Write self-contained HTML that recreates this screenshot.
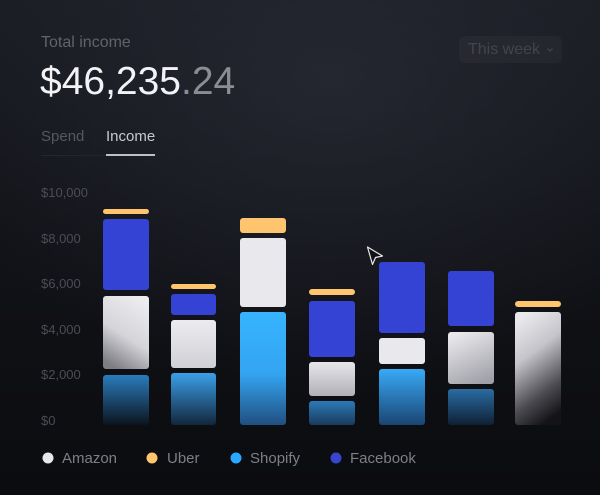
<!DOCTYPE html>
<html>
<head>
<meta charset="utf-8">
<style>
  html,body{margin:0;padding:0;}
  body{width:600px;height:495px;overflow:hidden;position:relative;
    font-family:"Liberation Sans",sans-serif;
    background:#0c0d11;}
  .bg{position:absolute;left:0;top:0;width:600px;height:495px;
    background:
      radial-gradient(ellipse 420px 300px at 330px 80px, rgba(40,43,54,0.75), rgba(20,22,28,0) 100%),
      linear-gradient(180deg,#1a1c23 0%,#121318 45%,#0b0c0f 100%);}
  .t{position:absolute;white-space:nowrap;line-height:1;}
</style>
</head>
<body>
<div class="bg"></div>

<div class="t" style="left:41px;top:35px;font-size:16px;color:#60636c;">Total income</div>
<div class="t" style="left:40px;top:62px;font-size:39px;color:#f3f3f5;">$46,235<span style="color:#8b8d93;">.24</span></div>

<div style="position:absolute;left:459px;top:36px;width:103px;height:27px;border-radius:6px;background:rgba(255,255,255,0.03);"></div>
<div class="t" style="left:468px;top:42px;font-size:16px;color:#42454d;">This week</div>
<svg style="position:absolute;left:546px;top:47px;" width="8" height="6" viewBox="0 0 8 6"><path d="M1.5 1.5 L4 4 L6.5 1.5" fill="none" stroke="#42454d" stroke-width="1.2"/></svg>

<div class="t" style="left:41px;top:129px;font-size:15px;color:#55585f;">Spend</div>
<div class="t" style="left:106px;top:129px;font-size:15px;color:#c9cacf;">Income</div>
<div style="position:absolute;left:41px;top:155px;width:65px;height:1px;background:#24262d;"></div>
<div style="position:absolute;left:106px;top:154px;width:49px;height:2px;background:#bfc0c5;"></div>

<div class="t" style="left:41px;top:186px;font-size:13px;color:#4a4d55;">$10,000</div>
<div class="t" style="left:41px;top:232px;font-size:13px;color:#4a4d55;">$8,000</div>
<div class="t" style="left:41px;top:277px;font-size:13px;color:#4a4d55;">$6,000</div>
<div class="t" style="left:41px;top:323px;font-size:13px;color:#4a4d55;">$4,000</div>
<div class="t" style="left:41px;top:368px;font-size:13px;color:#4a4d55;">$2,000</div>
<div class="t" style="left:41px;top:414px;font-size:13px;color:#4a4d55;">$0</div>

<svg style="position:absolute;left:0;top:0;" width="600" height="495" viewBox="0 0 600 495">
  <defs>
    <linearGradient id="am1" x1="0.7" y1="0" x2="0.3" y2="1"><stop offset="0" stop-color="#ececf0"/><stop offset="0.55" stop-color="#d4d4d9"/><stop offset="1" stop-color="#7d7d84"/></linearGradient>
    <linearGradient id="am2" x1="0" y1="0" x2="0" y2="1"><stop offset="0" stop-color="#ececf0"/><stop offset="1" stop-color="#cfcfd5"/></linearGradient>
    <linearGradient id="am4" x1="0" y1="0" x2="0" y2="1"><stop offset="0" stop-color="#e6e6ea"/><stop offset="1" stop-color="#b0b0b7"/></linearGradient>
    <linearGradient id="am6" x1="0.3" y1="0" x2="0.7" y2="1"><stop offset="0" stop-color="#e8e8ec"/><stop offset="1" stop-color="#a0a0a8"/></linearGradient>
    <linearGradient id="am7" x1="0.3" y1="0" x2="0.6" y2="1"><stop offset="0" stop-color="#e9e9ed"/><stop offset="0.35" stop-color="#c4c4ca"/><stop offset="0.75" stop-color="#4a4a50"/><stop offset="1" stop-color="#141418"/></linearGradient>
    <linearGradient id="sh1" x1="0" y1="0" x2="0" y2="1"><stop offset="0" stop-color="#2a7cbd"/><stop offset="1" stop-color="#0c141d"/></linearGradient>
    <linearGradient id="sh2" x1="0" y1="0" x2="0" y2="1"><stop offset="0" stop-color="#3aa0e8"/><stop offset="1" stop-color="#12263c"/></linearGradient>
    <linearGradient id="sh3" x1="0" y1="0" x2="0" y2="1"><stop offset="0" stop-color="#37b4ff"/><stop offset="0.55" stop-color="#33a4f0"/><stop offset="1" stop-color="#214f80"/></linearGradient>
    <linearGradient id="sh4" x1="0" y1="0" x2="0" y2="1"><stop offset="0" stop-color="#2b7ab8"/><stop offset="1" stop-color="#1a3a5a"/></linearGradient>
    <linearGradient id="sh5" x1="0" y1="0" x2="0" y2="1"><stop offset="0" stop-color="#38aaf6"/><stop offset="1" stop-color="#1a4572"/></linearGradient>
    <linearGradient id="sh6" x1="0" y1="0" x2="0" y2="1"><stop offset="0" stop-color="#2a6ca3"/><stop offset="1" stop-color="#0f2034"/></linearGradient>
  </defs>
  <!-- bar 1 -->
  <rect x="103" y="209" width="46" height="5" rx="2.5" fill="#ffc46e"/>
  <rect x="103" y="219" width="46" height="71" rx="3" fill="#3443d3"/>
  <rect x="103" y="296" width="46" height="73" rx="3" fill="url(#am1)"/>
  <rect x="103" y="375" width="46" height="50" rx="3" fill="url(#sh1)"/>
  <!-- bar 2 -->
  <rect x="171" y="284" width="45" height="5" rx="2.5" fill="#ffc46e"/>
  <rect x="171" y="294" width="45" height="21" rx="3" fill="#3443d3"/>
  <rect x="171" y="320" width="45" height="48" rx="3" fill="url(#am2)"/>
  <rect x="171" y="373" width="45" height="52" rx="3" fill="url(#sh2)"/>
  <!-- bar 3 -->
  <rect x="240" y="218" width="46" height="15" rx="3" fill="#ffc46e"/>
  <rect x="240" y="238" width="46" height="69" rx="3" fill="#e9e9ed"/>
  <rect x="240" y="312" width="46" height="113" rx="3" fill="url(#sh3)"/>
  <!-- bar 4 -->
  <rect x="309" y="289" width="46" height="6" rx="3" fill="#ffc46e"/>
  <rect x="309" y="301" width="46" height="56" rx="3" fill="#3443d3"/>
  <rect x="309" y="362" width="46" height="34" rx="3" fill="url(#am4)"/>
  <rect x="309" y="401" width="46" height="24" rx="3" fill="url(#sh4)"/>
  <!-- bar 5 -->
  <rect x="379" y="262" width="46" height="71" rx="3" fill="#3443d3"/>
  <rect x="379" y="338" width="46" height="26" rx="3" fill="#e9e9ed"/>
  <rect x="379" y="369" width="46" height="56" rx="3" fill="url(#sh5)"/>
  <!-- bar 6 -->
  <rect x="448" y="271" width="46" height="55" rx="3" fill="#3443d3"/>
  <rect x="448" y="332" width="46" height="52" rx="3" fill="url(#am6)"/>
  <rect x="448" y="389" width="46" height="36" rx="3" fill="url(#sh6)"/>
  <!-- bar 7 -->
  <rect x="515" y="301" width="46" height="6" rx="3" fill="#ffc46e"/>
  <rect x="515" y="312" width="46" height="113" rx="3" fill="url(#am7)"/>

  <!-- cursor -->
  <path d="M367.5 247 L382.5 256 L375.5 257.5 L372.5 264.5 Z" fill="#111216" stroke="#e8e8ec" stroke-width="1.2" stroke-linejoin="round"/>

  <!-- legend dots -->
  <circle cx="48" cy="458" r="5.5" fill="#e8e8ec"/>
  <circle cx="152" cy="458" r="5.5" fill="#ffc46e"/>
  <circle cx="236" cy="458" r="5.5" fill="#2aa8ff"/>
  <circle cx="336" cy="458" r="5.5" fill="#3a45cf"/>
</svg>

<div class="t" style="left:62px;top:451px;font-size:15px;color:#7c7f88;">Amazon</div>
<div class="t" style="left:167px;top:451px;font-size:15px;color:#7c7f88;">Uber</div>
<div class="t" style="left:250px;top:451px;font-size:15px;color:#7c7f88;">Shopify</div>
<div class="t" style="left:350px;top:451px;font-size:15px;color:#7c7f88;">Facebook</div>

</body>
</html>
